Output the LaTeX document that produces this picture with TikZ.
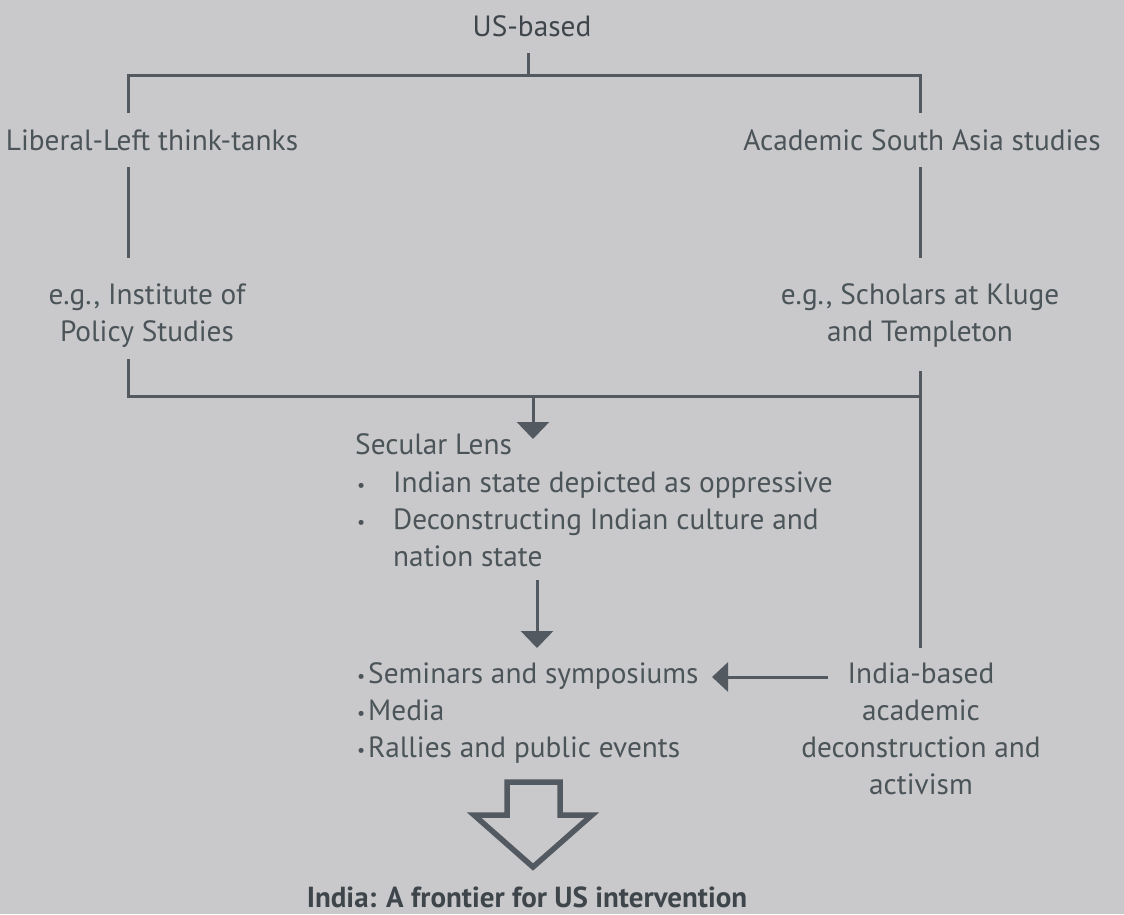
\documentclass[tikz,border=0pt]{standalone}
\usepackage{fontspec}
\setmainfont{PT Sans}
\usetikzlibrary{arrows.meta}
\definecolor{bg}{HTML}{C9C9CB}
\definecolor{ink}{HTML}{4B5459}
\definecolor{inkdark}{HTML}{3E464C}
\definecolor{rule}{HTML}{525961}
\newcommand\stack[2][c]{\begin{tabular}[t]{@{}#1@{}}#2\end{tabular}}
\newcommand\listdot{\raisebox{1pt}{\fontsize{18}{18}\selectfont\textbullet}}
\newcommand\bul{\makebox[36pt][l]{\listdot}}
\newcommand\sbul{\makebox[11pt][l]{\listdot}}
\begin{document}
\begin{tikzpicture}[x=1pt,y=-1pt,
  lbl/.style={text=ink, inner sep=0pt, anchor=base, font=\fontsize{29.3}{37}\selectfont},
  lblw/.style={lbl, anchor=base west},
  link/.style={draw=rule, line width=3pt},
  flow/.style={link, -{Triangle[width=32pt,length=17pt]}},
  bigarrow/.style={draw=rule, line width=5.5pt, line join=miter},
]
\fill[bg] (0,0) rectangle (1124,914);
\useasboundingbox (0,0) rectangle (1124,914);

% labels
\node[lbl, text=inkdark] (us) at (532,36) {US-based};
\node[lbl] (left) at (152,150) {Liberal-Left think-tanks};
\node[lbl] (right) at (922,150) {Academic South Asia studies};
\node[lbl] (ips) at (147,304) {\stack{e.g., Institute of\\Policy Studies}};
\node[lbl] (kluge) at (920,304) {\stack{e.g., Scholars at Kluge\\and Templeton}};
\node[lblw] (lens) at (355,454) {Secular Lens};
\node[lblw] (lenslist) at (357,492) {\stack[l]{\bul Indian state depicted as oppressive\\
  \bul Deconstructing Indian culture and\\ \hspace{36pt}nation state}};
\node[lblw] (outlets) at (357,683) {\stack[l]{\sbul Seminars and symposiums\\ \sbul Media\\ \sbul Rallies and public events}};
\node[lbl] (indiab) at (921,683) {\stack{India-based\\academic\\deconstruction and\\activism}};
\node[lbl, text=inkdark, font=\fontsize{29}{37}\selectfont\bfseries] (goal) at (527,907) {India: A frontier for US intervention};

% junction points of the brackets
\coordinate (stub) at (528,53);
\coordinate (topmid) at (528,75);
\coordinate (dropL) at (128,113);
\coordinate (dropR) at (920,113);
\coordinate (leftA) at (128,167);
\coordinate (leftB) at (128,258);
\coordinate (rightA) at (920,167);
\coordinate (rightB) at (920,258);
\coordinate (joinL) at (128,359);
\coordinate (joinR) at (920,396);
\coordinate (mid) at (533,396);
\coordinate (lensTip) at (533,439);
\coordinate (sideTop) at (920,371);
\coordinate (sideBot) at (920,648);
\coordinate (down1) at (537,580);
\coordinate (down2) at (537,648);
\coordinate (feedA) at (828,677);
\coordinate (feedB) at (712,677);

% connectors
\draw[link] (stub) -- (topmid);
\draw[link] (dropL) |- (topmid) -| (dropR);
\draw[link] (leftA) -- (leftB);
\draw[link] (rightA) -- (rightB);
\draw[link] (joinL) |- (joinR);
\draw[link] (sideTop) -- (sideBot);
\draw[flow] (mid) -- (lensTip);
\draw[flow] (down1) -- (down2);
\draw[link, -{Triangle[width=29pt,length=16pt]}] (feedA) -- (feedB);

% block arrow towards the conclusion
\draw[bigarrow] (507,782) -- (560,782) -- (560,815) -- (592,815) -- (533,867)
  -- (474,815) -- (507,815) -- cycle;
\end{tikzpicture}
\end{document}
